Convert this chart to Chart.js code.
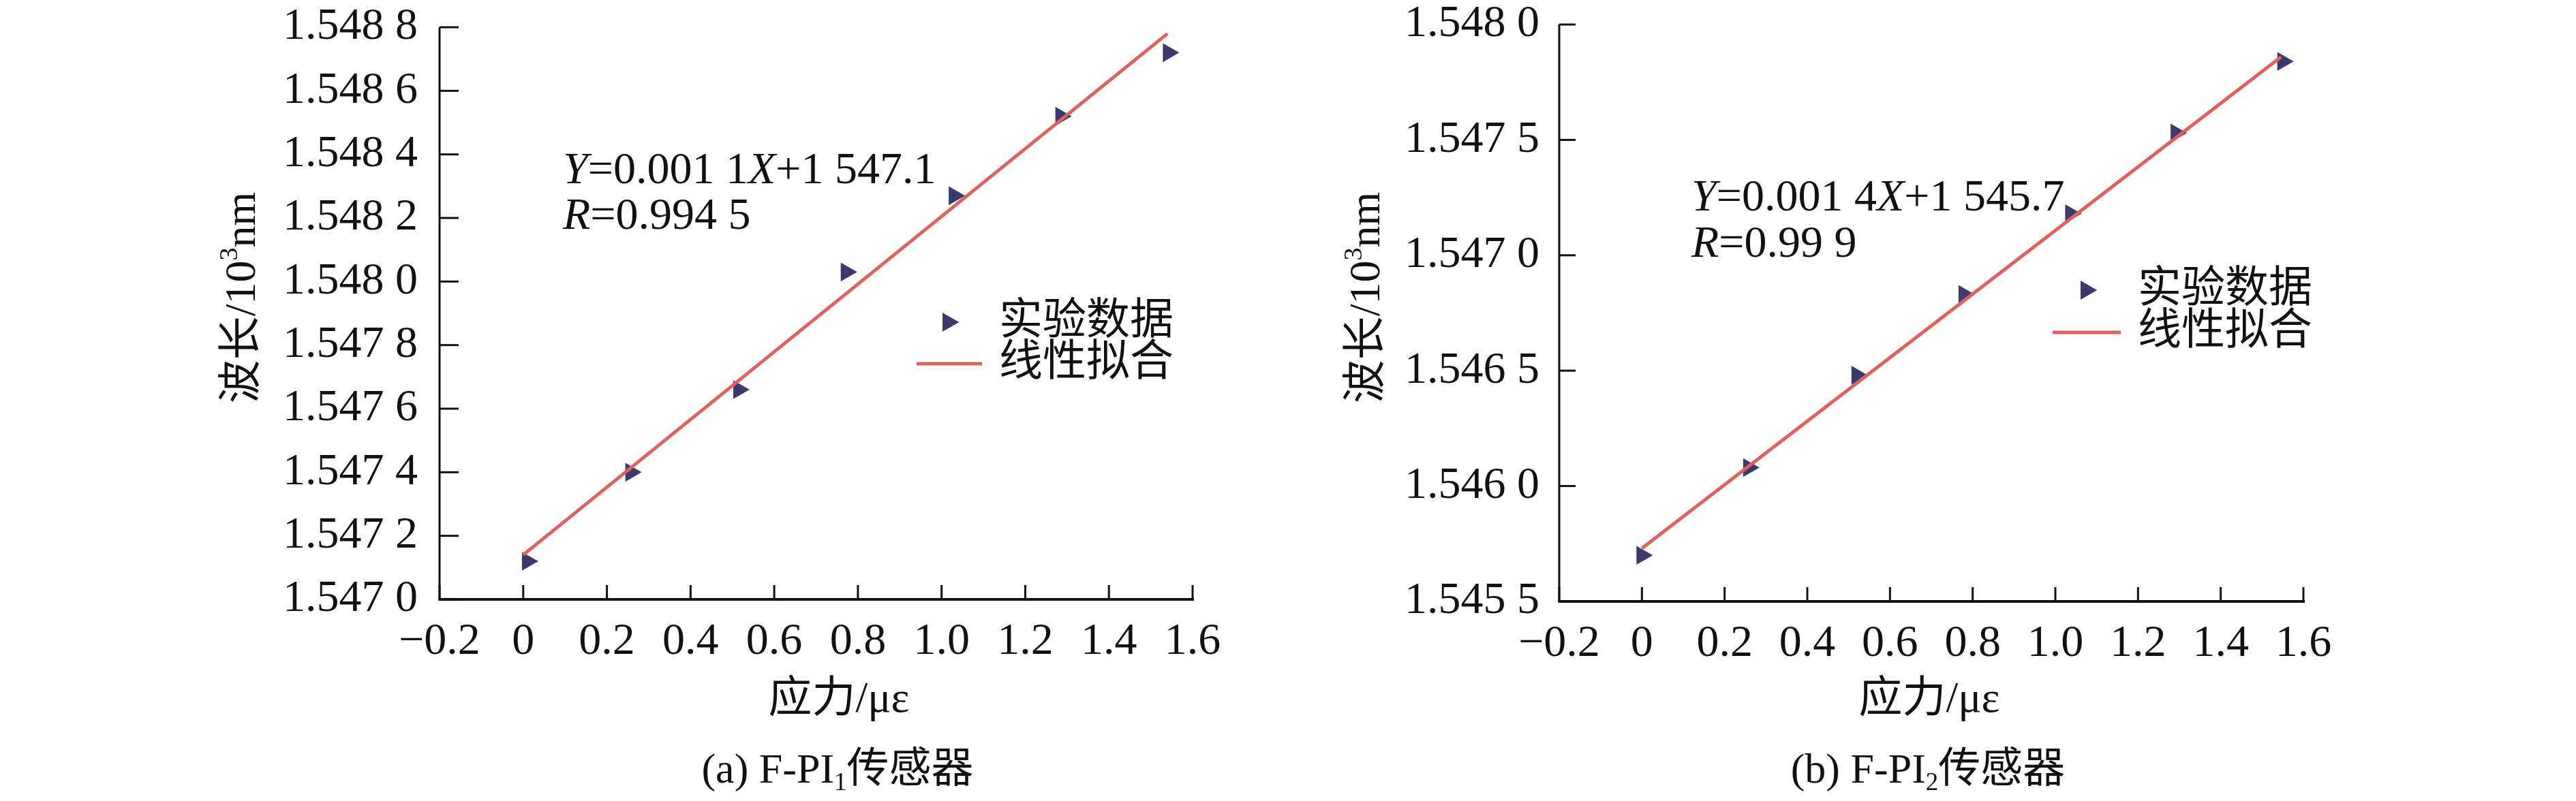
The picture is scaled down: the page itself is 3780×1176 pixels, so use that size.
<!DOCTYPE html>
<html><head><meta charset="utf-8">
<script src="https://cdn.jsdelivr.net/npm/chart.js@4.4.1/dist/chart.umd.min.js"></script>
<style>
html,body{margin:0;padding:0;background:#fff;}
#wrap{position:relative;width:3780px;height:1176px;background:#fff;}
canvas{position:absolute;top:0;}
</style></head>
<body>
<div id="wrap">
<canvas id="c1" width="1890" height="1176" style="left:0px"></canvas>
<canvas id="c2" width="1890" height="1176" style="left:1890px"></canvas>
</div>
<script>
// ---------- data ----------
const strainA = [0.01, 0.257, 0.515, 0.772, 1.030, 1.285, 1.542];
const waveA   = [1.54712, 1.54740, 1.54766, 1.54803, 1.54827, 1.54852, 1.54872];
const fitXA   = [0, 1.54];
const fitYA   = [1.54714, 1.54878];

const strainB = [0.0, 0.258, 0.520, 0.779, 1.037, 1.292, 1.550];
const waveB   = [1.54570, 1.54608, 1.54648, 1.54683, 1.54718, 1.54753, 1.54784];
const fitXB   = [0, 1.546];
const fitYB   = [1.54573, 1.54786];

const xTickValues = [-0.2, 0, 0.2, 0.4, 0.6, 0.8, 1.0, 1.2, 1.4, 1.6];
const xTickLabels = ['\u22120.2', '0', '0.2', '0.4', '0.6', '0.8', '1.0', '1.2', '1.4', '1.6'];
const yTickValuesA = [1.5470, 1.5472, 1.5474, 1.5476, 1.5478, 1.5480, 1.5482, 1.5484, 1.5486, 1.5488];
const yTickLabelsA = ['1.547 0', '1.547 2', '1.547 4', '1.547 6', '1.547 8', '1.548 0', '1.548 2', '1.548 4', '1.548 6', '1.548 8'];
const yTickValuesB = [1.5455, 1.5460, 1.5465, 1.5470, 1.5475, 1.5480];
const yTickLabelsB = ['1.545 5', '1.546 0', '1.546 5', '1.547 0', '1.547 5', '1.548 0'];

const legendLabels = ['实验数据', '线性拟合'];
const xTitle = '应力/με';
const yTitleSegs = [{t: '波长/10'}, {t: '3', sup: true}, {t: 'nm'}];
const eqA = [[{t: 'Y', it: true}, {t: '=0.001 1'}, {t: 'X', it: true}, {t: '+1 547.1'}], [{t: 'R', it: true}, {t: '=0.994 5'}]];
const eqB = [[{t: 'Y', it: true}, {t: '=0.001 4'}, {t: 'X', it: true}, {t: '+1 545.7'}], [{t: 'R', it: true}, {t: '=0.99 9'}]];
const captionA = [{t: '(a) F-PI'}, {t: '1', sub: true}, {t: '传感器'}];
const captionB = [{t: '(b) F-PI'}, {t: '2', sub: true}, {t: '传感器'}];

// ---------- style ----------
const FAM = '"Liberation Serif", "Noto Sans CJK SC", serif';
const FS = 66;
const MARK = '#3c3a6c';
const LINE = '#e0605e';

function fontStr(size, italic) { return (italic ? 'italic ' : '') + size + 'px ' + FAM; }
function segSize(s, size) { return (s.sub || s.sup) ? Math.round(size * 0.6) : size; }
function segsWidth(ctx, segs, size) {
  let w = 0;
  for (const s of segs) { ctx.font = fontStr(segSize(s, size), s.it); w += ctx.measureText(s.t).width; }
  return w;
}
function drawSegs(ctx, x, y, segs, size, align) {
  const w = segsWidth(ctx, segs, size);
  let cx = align === 'center' ? x - w / 2 : x;
  ctx.textAlign = 'left';
  ctx.textBaseline = 'middle';
  for (const s of segs) {
    ctx.font = fontStr(segSize(s, size), s.it);
    const dy = s.sub ? size * 0.28 : (s.sup ? -size * 0.3 : 0);
    ctx.fillText(s.t, cx, y + dy);
    cx += ctx.measureText(s.t).width;
  }
}

function makeChart(canvasId, cfg) {
  const decor = {
    id: 'decor',
    afterDraw(chart) {
      const ctx = chart.ctx;
      const xs = chart.scales.x, ys = chart.scales.y;
      const a = chart.chartArea;
      ctx.save();
      ctx.strokeStyle = '#111';
      ctx.lineCap = 'butt';
      // axes
      ctx.lineWidth = 3;
      ctx.beginPath(); ctx.moveTo(a.left, a.top); ctx.lineTo(a.left, a.bottom + 1); ctx.stroke();
      ctx.lineWidth = 4;
      ctx.beginPath(); ctx.moveTo(a.left - 1.5, a.bottom); ctx.lineTo(a.right + 2, a.bottom); ctx.stroke();
      // inward ticks
      ctx.lineWidth = 3;
      for (const t of ys.ticks) {
        const y = ys.getPixelForValue(t.value);
        ctx.beginPath(); ctx.moveTo(a.left, y); ctx.lineTo(a.left + cfg.yTickLen, y); ctx.stroke();
      }
      for (const t of xs.ticks) {
        const x = xs.getPixelForValue(t.value);
        ctx.beginPath(); ctx.moveTo(x, a.bottom); ctx.lineTo(x, a.bottom - 21); ctx.stroke();
      }
      ctx.fillStyle = '#111';
      // y title (rotated)
      ctx.save();
      ctx.translate(cfg.yTitlePos[0], cfg.yTitlePos[1]);
      ctx.rotate(-Math.PI / 2);
      drawSegs(ctx, 0, 0, yTitleSegs, 64, 'center');
      ctx.restore();
      // x title
      drawSegs(ctx, cfg.xTitlePos[0], cfg.xTitlePos[1], [{t: xTitle}], 64, 'center');
      // caption
      drawSegs(ctx, cfg.capPos[0], cfg.capPos[1], cfg.caption, 62, 'center');
      // equation
      drawSegs(ctx, cfg.eqPos[0], cfg.eqPos[1], cfg.eq[0], FS, 'left');
      drawSegs(ctx, cfg.eqPos[0], cfg.eqPos[2], cfg.eq[1], FS, 'left');
      // legend
      const L = cfg.legend;
      ctx.fillStyle = MARK;
      Chart.helpers.drawPoint(ctx, {pointStyle: 'triangle', radius: 16, rotation: 90, borderWidth: 0}, L.mx, L.y1);
      ctx.fill();
      ctx.strokeStyle = LINE; ctx.lineWidth = 5;
      ctx.beginPath(); ctx.moveTo(L.lx0, L.y2); ctx.lineTo(L.lx1, L.y2); ctx.stroke();
      ctx.fillStyle = '#111';
      drawSegs(ctx, L.tx, L.y1, [{t: legendLabels[0]}], 64, 'left');
      drawSegs(ctx, L.tx, L.y2, [{t: legendLabels[1]}], 64, 'left');
      ctx.restore();
    }
  };

  return new Chart(document.getElementById(canvasId), {
    type: 'scatter',
    data: {
      datasets: [
        {
          label: legendLabels[1],
          data: cfg.fitX.map((x, i) => ({x: x, y: cfg.fitY[i]})),
          showLine: true, borderColor: LINE, borderWidth: 5, pointRadius: 0, order: 0
        },
        {
          label: legendLabels[0],
          data: cfg.xs.map((x, i) => ({x: x, y: cfg.ys[i]})),
          pointStyle: 'triangle', rotation: 90, pointRadius: 16, pointBorderWidth: 0,
          backgroundColor: MARK, borderColor: MARK, order: 1
        }
      ]
    },
    options: {
      responsive: false, animation: false, devicePixelRatio: 1,
      layout: {padding: cfg.padding},
      plugins: {legend: {display: false}, tooltip: {enabled: false}},
      scales: {
        x: {
          type: 'linear', min: -0.2, max: 1.6,
          afterBuildTicks(s) { s.ticks = xTickValues.map(v => ({value: v})); },
          afterFit(s) { s.height = cfg.xHeight; s.paddingLeft = 0; s.paddingRight = 0; },
          grid: {display: false, drawTicks: false}, border: {display: false},
          ticks: {
            autoSkip: false, maxRotation: 0, padding: 30, color: '#111',
            font: {family: FAM, size: FS, lineHeight: 1},
            callback(v, i) { return xTickLabels[i]; }
          }
        },
        y: {
          type: 'linear', min: cfg.yTicks[0], max: cfg.yTicks[cfg.yTicks.length - 1],
          afterBuildTicks(s) { s.ticks = cfg.yTicks.map(v => ({value: v})); },
          afterFit(s) { s.width = cfg.yWidth; s.paddingTop = 0; s.paddingBottom = 0; },
          grid: {display: false, drawTicks: false}, border: {display: false},
          ticks: {
            autoSkip: false, padding: cfg.yPad, color: '#111',
            font: {family: FAM, size: FS, lineHeight: 1},
            callback(v, i) { return cfg.yLabels[i]; }
          }
        }
      }
    },
    plugins: [decor]
  });
}

makeChart('c1', {
  xs: strainA, ys: waveA, fitX: fitXA, fitY: fitYA,
  yTicks: yTickValuesA, yLabels: yTickLabelsA,
  padding: {left: 0, right: 140, top: 40, bottom: 96},
  yWidth: 645, xHeight: 200, yPad: 32, yTickLen: 28,
  yTitlePos: [357, 437], xTitlePos: [1231, 1028], capPos: [1229, 1133],
  caption: captionA, eq: eqA, eqPos: [826, 252, 319],
  legend: {mx: 1391, tx: 1466, lx0: 1345, lx1: 1441, y1: 473, y2: 534}
});

makeChart('c2', {
  xs: strainB, ys: waveB, fitX: fitXB, fitY: fitYB,
  yTicks: yTickValuesB, yLabels: yTickLabelsB,
  padding: {left: 0, right: 400, top: 36, bottom: 93},
  yWidth: 398, xHeight: 200, yPad: 29, yTickLen: 24,
  yTitlePos: [117, 437], xTitlePos: [941, 1028], capPos: [939, 1133],
  caption: captionB, eq: eqB, eqPos: [592, 292, 360],
  legend: {mx: 1171, tx: 1247, lx0: 1122, lx1: 1222, y1: 426, y2: 488}
});
</script>
</body></html>
